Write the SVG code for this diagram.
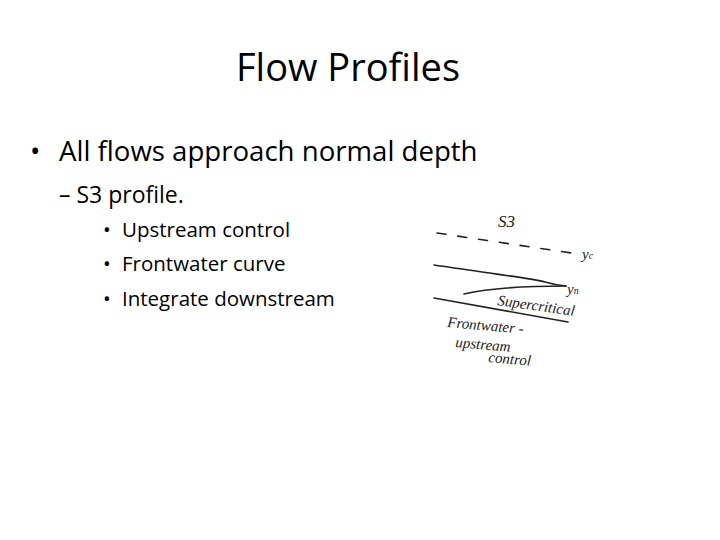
<svg xmlns="http://www.w3.org/2000/svg" width="720" height="540" viewBox="0 0 720 540">
<style>
text{font-family:"Open Sans","Liberation Sans",sans-serif;fill:#000}
.b1{font-size:27.6px}.b2{font-size:23px}.b3{font-size:20.5px}
.hw{font-family:"Liberation Serif",serif;font-style:italic;font-size:15px;fill:#222}
.sk{fill:none;stroke:#222;stroke-width:1.6;stroke-linecap:round}
</style>
<rect width="720" height="540" fill="#fff"/>
<text x="348" y="81" text-anchor="middle" style="font-size:38px">Flow Profiles</text>
<text x="30" y="161" class="b1">•</text>
<text x="59" y="161" class="b1">All flows approach normal depth</text>
<text x="59" y="203" class="b2">– S3 profile.</text>
<text x="103" y="237" class="b3">•</text><text x="122" y="237" class="b3">Upstream control</text>
<text x="103" y="271" class="b3">•</text><text x="122" y="271" class="b3">Frontwater curve</text>
<text x="103" y="306" class="b3">•</text><text x="122" y="306" class="b3">Integrate downstream</text>
<g id="sketch">
<path class="sk" stroke-dasharray="9,12" d="M437 233 L578 254"/>
<path class="sk" d="M434 265 C480 272 530 278 545 282 Q555 285 566 286"/>
<path class="sk" d="M464 294 C490 288 530 286 566 286"/>
<path class="sk" d="M434 298 L568 322"/>
<text x="498" y="227" class="hw" style="font-size:17px">S3</text>
<text x="582" y="259" class="hw">y<tspan font-size="10">c</tspan></text>
<text x="567" y="294" class="hw">y<tspan font-size="10">n</tspan></text>
<text x="497" y="305" class="hw" transform="rotate(8 497 305)">Supercritical</text>
<text x="447" y="327" class="hw" transform="rotate(5 447 327)">Frontwater -</text>
<text x="455" y="347" class="hw" transform="rotate(5 455 347)">upstream</text>
<text x="488" y="362" class="hw" transform="rotate(5 488 362)">control</text>
</g>
</svg>
